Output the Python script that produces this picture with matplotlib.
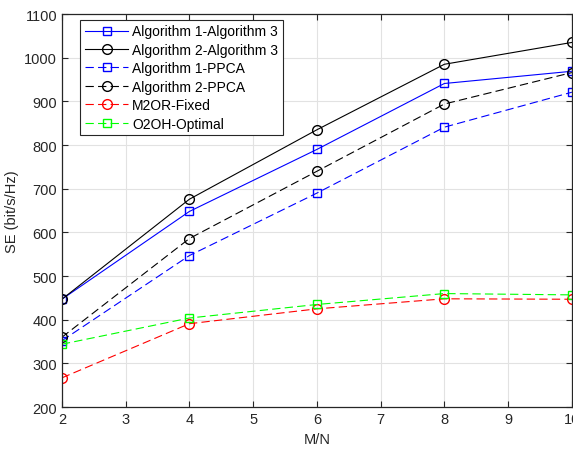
import matplotlib
matplotlib.use("Agg")
import matplotlib.pyplot as plt

plt.rcParams['font.family'] = ['Liberation Sans', 'DejaVu Sans']

# M/N values
mn = [2, 4, 6, 8, 10]

# SE (bit/s/Hz) per scheme
alg1_alg3 = [447, 648, 790, 941, 969]
alg2_alg3 = [447, 676, 835, 985, 1035]
alg1_ppca = [352, 547, 690, 841, 921]
alg2_ppca = [360, 586, 740, 894, 966]
m2or_fixed = [267, 391, 425, 448, 447]
o2oh_opt = [344, 404, 435, 460, 457]

labels = ['Algorithm 1-Algorithm 3', 'Algorithm 2-Algorithm 3',
          'Algorithm 1-PPCA', 'Algorithm 2-PPCA', 'M2OR-Fixed', 'O2OH-Optimal']

fig = plt.figure(figsize=(5.73, 4.56), dpi=100)
ax = fig.add_axes([0.108, 0.105, 0.89, 0.862])

lw = 0.8
dash = (7.5, 3.8)
ax.plot(mn, alg1_alg3, '-', color=(0, 0, 1), marker='s', ms=5.5, mfc='none', lw=lw, label=labels[0])
ax.plot(mn, alg2_alg3, '-', color='k', marker='o', ms=7, mfc='none', lw=lw, label=labels[1])
ax.plot(mn, alg1_ppca, '--', dashes=dash, color=(0, 0, 1), marker='s', ms=5.5, mfc='none', lw=lw, label=labels[2])
ax.plot(mn, alg2_ppca, '--', dashes=dash, color='k', marker='o', ms=7, mfc='none', lw=lw, label=labels[3])
ax.plot(mn, m2or_fixed, '--', dashes=dash, color=(1, 0, 0), marker='o', ms=7, mfc='none', lw=lw, label=labels[4])
ax.plot(mn, o2oh_opt, '--', dashes=dash, color=(0, 1, 0), marker='s', ms=5.5, mfc='none', lw=lw, label=labels[5])

ax.set_xlim(2, 10)
ax.set_ylim(200, 1100)
ax.set_xticks(range(2, 11))
ax.set_yticks(range(200, 1101, 100))
ax.set_xlabel('M/N', fontsize=10.5, color='#262626')
ax.set_ylabel('SE (bit/s/Hz)', fontsize=10.5, color='#262626')
ax.grid(True, color='#e2e2e2', lw=0.8)
ax.set_axisbelow(True)
ax.tick_params(direction='in', length=4, width=0.8, top=True, right=True,
               labelsize=10.5, colors='#262626')
for s in ax.spines.values():
    s.set_color('#262626')
    s.set_linewidth(0.9)

leg = ax.legend(loc='upper left', bbox_to_anchor=(0.036, 0.986), fontsize=10,
                handlelength=3.1, handletextpad=0.3, labelspacing=0.32,
                borderpad=0.35, borderaxespad=0, fancybox=False, framealpha=1)
leg.get_frame().set_edgecolor('#262626')
leg.get_frame().set_linewidth(0.8)

fig.savefig('out.png', dpi=100)
